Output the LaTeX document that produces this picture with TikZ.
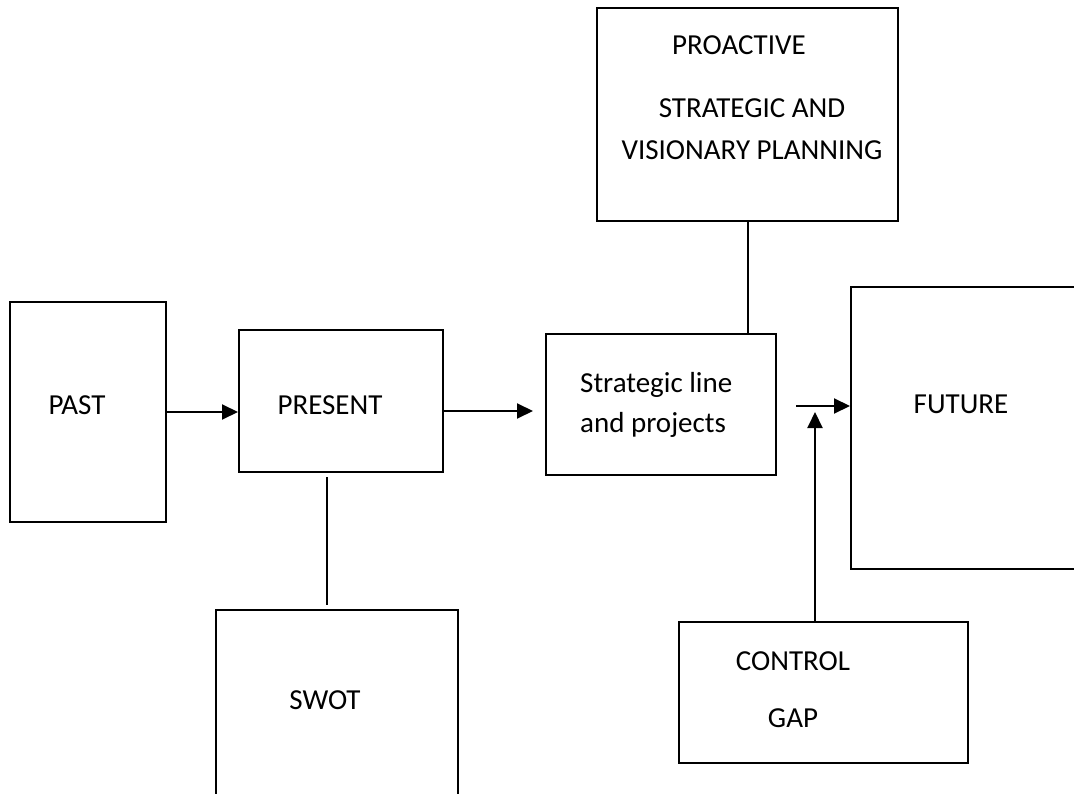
\documentclass[tikz,border=0pt]{standalone}
\usepackage{fontspec}
\setmainfont{Carlito}
\usetikzlibrary{arrows.meta}
\begin{document}
\begin{tikzpicture}[x=1pt,y=-1pt,
  box/.style={draw, line width=2pt, inner sep=0pt, minimum width=#1},
  txt/.style={inner sep=0pt, anchor=base, font=\fontsize{29pt}{35pt}\selectfont},
  link/.style={line width=2pt},
  arr/.style={line width=2pt, -{Triangle[length=16pt,width=15pt]}}]
\useasboundingbox (0,0) rectangle (1074,794);
\clip (0,0) rectangle (1074,794);

% boxes
\node[box=156pt, minimum height=220pt] (past)      at (88,412)    {};
\node[box=204pt, minimum height=142pt] (present)   at (341,401)   {};
\node[box=230pt, minimum height=141pt] (strat)     at (661,404.5) {};
\node[box=301pt, minimum height=213pt] (proactive) at (747.5,114.5) {};
\node[box=300pt, minimum height=282pt] (future)    at (1001,428)  {};
\node[box=289pt, minimum height=141pt] (control)   at (823.5,692.5) {};
\node[box=242pt, minimum height=240pt] (swot)      at (337,730)   {};

% labels
\node[txt] (tpast)    at (77,414)  {PAST};
\node[txt] (tpresent) at (330,414) {PRESENT};
\node[txt, anchor=base west] (tstrat1) at (580,392) {Strategic line};
\node[txt, anchor=base west] (tstrat2) at (580,432) {and projects};
\node[txt] (tfuture)  at (961,413) {FUTURE};
\node[txt] (tpro1)    at (739,55)  {PROACTIVE};
\node[txt] (tpro2)    at (752,118) {STRATEGIC AND};
\node[txt] (tpro3)    at (752,160) {VISIONARY PLANNING};
\node[txt] (tswot)    at (325,709) {SWOT};
\node[txt] (tctrl)    at (793,670) {CONTROL};
\node[txt] (tgap)     at (793,727) {GAP};

% connector end points
\coordinate (a2) at (533,411);
\coordinate (a3) at (796,406);
\coordinate (a4) at (815,412);
\coordinate (s1) at (327,477);

% connectors
\draw[arr] (past.east) -- (past.east -| present.west);
\draw[arr] (present.east |- a2) -- (a2);
\draw[arr] (a3) -- (a3 -| future.west);
\draw[arr] (control.north -| a4) -- (a4);
\draw[link] (proactive.south) -- (proactive.south |- strat.north);
\draw[link, shorten >=4pt] (s1) -- (s1 |- swot.north);
\end{tikzpicture}
\end{document}
